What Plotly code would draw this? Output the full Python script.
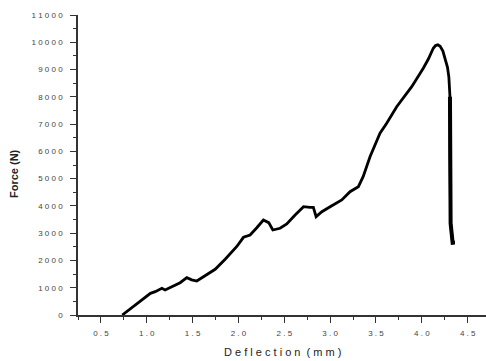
import plotly.graph_objects as go

# Load-deflection curve of the specimen
deflection_mm = [0.733, 0.892, 0.964, 1.04, 1.092, 1.165, 1.20, 1.28, 1.364, 1.437,
                 1.49, 1.546, 1.618, 1.746, 1.855, 1.98, 2.055, 2.127, 2.20, 2.272,
                 2.33, 2.375, 2.454, 2.527, 2.618, 2.71, 2.78, 2.817, 2.847, 2.91,
                 3.0, 3.127, 3.217, 3.308, 3.36, 3.435, 3.544, 3.617, 3.726, 3.89,
                 4.016, 4.07, 4.125, 4.15, 4.175, 4.20, 4.23, 4.255, 4.28, 4.295,
                 4.305, 4.307, 4.307, 4.307, 4.314, 4.336, 4.36]
force_n = [0, 428, 612, 795, 855, 980, 917, 1050, 1185, 1370,
           1290, 1247, 1405, 1676, 2042, 2504, 2849, 2934, 3200, 3484,
           3385, 3117, 3179, 3337, 3667, 3971, 3949, 3949, 3605, 3788,
           3971, 4217, 4521, 4705, 5071, 5805, 6663, 7030, 7639, 8373,
           9047, 9377, 9780, 9880, 9905, 9850, 9680, 9420, 9080, 8720,
           8300, 8005, 6050, 3971, 3363, 2651, 2660]

# Axis ticks
x_tick_vals = [0.5, 1.0, 1.5, 2.0, 2.5, 3.0, 3.5, 4.0, 4.5]
x_tick_text = ["0 . 5", "1 . 0", "1 . 5", "2 . 0", "2 . 5", "3 . 0", "3 . 5", "4 . 0", "4 . 5"]
y_tick_vals = [0, 1000, 2000, 3000, 4000, 5000, 6000, 7000, 8000, 9000, 10000, 11000]
y_tick_text = ["0", "1 0 0 0", "2 0 0 0", "3 0 0 0", "4 0 0 0", "5 0 0 0", "6 0 0 0",
               "7 0 0 0", "8 0 0 0", "9 0 0 0", "1 0 0 0 0", "1 1 0 0 0"]

# index where the load starts to drop off vertically
drop_start = 51

FONT = "Liberation Sans, Arial, sans-serif"

fig = go.Figure()
fig.add_trace(go.Scatter(
    x=deflection_mm, y=force_n,
    mode="lines", line=dict(color="black", width=2.8),
    showlegend=False, hoverinfo="skip"))
fig.add_trace(go.Scatter(
    x=deflection_mm[drop_start:], y=force_n[drop_start:],
    mode="lines", line=dict(color="black", width=4),
    showlegend=False, hoverinfo="skip"))

axis_common = dict(
    showgrid=False, zeroline=False, showline=True, linecolor="#333333", linewidth=1.6,
    ticks="outside", ticklen=6, tickwidth=1.2, tickcolor="#333333",
    tickfont=dict(family=FONT, size=8, color="#444444"),
)

fig.update_xaxes(
    range=[0.25, 4.70], tickmode="array", tickvals=x_tick_vals, ticktext=x_tick_text,
    minor=dict(dtick=0.25, tick0=0.25, ticks="outside", ticklen=3, tickcolor="#333333", tickwidth=1),
    ticklabelstandoff=4, **axis_common)
fig.update_yaxes(
    range=[0, 11000], tickmode="array", tickvals=y_tick_vals, ticktext=y_tick_text,
    minor=dict(dtick=500, tick0=0, ticks="outside", ticklen=3, tickcolor="#333333", tickwidth=1),
    ticklabelstandoff=6, **axis_common)

fig.add_annotation(
    text="<b>Force (N)</b>", xref="paper", yref="paper", x=-0.157, y=0.473,
    textangle=-90, showarrow=False, xanchor="center", yanchor="middle",
    font=dict(family=FONT, size=11, color="#222222"))
fig.add_annotation(
    text="D e f l e c t i o n  ( m m )", xref="paper", yref="paper", x=0.502, y=-0.123,
    showarrow=False, xanchor="center", yanchor="middle",
    font=dict(family=FONT, size=11, color="#222222"))

fig.update_layout(
    width=486, height=361,
    margin=dict(l=78, r=0, t=15, b=46),
    paper_bgcolor="white", plot_bgcolor="white",
)

fig.write_html("out.html")
